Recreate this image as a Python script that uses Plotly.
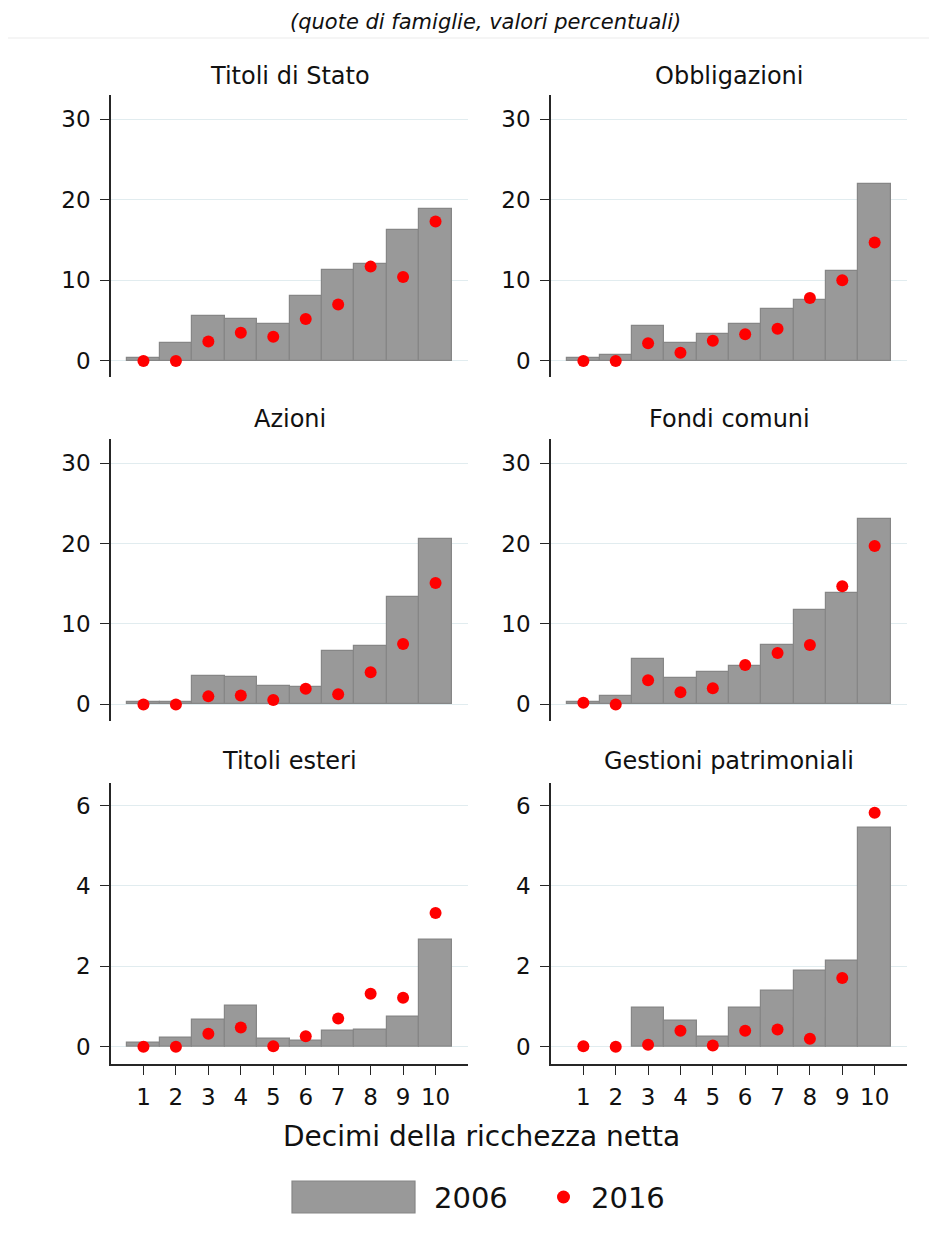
import plotly.graph_objects as go

# ---------------- data ----------------
deciles = [1, 2, 3, 4, 5, 6, 7, 8, 9, 10]
tick_labels = ["1", "2", "3", "4", "5", "6", "7", "8", "9", "10"]

panel_titles = ["Titoli di Stato", "Obbligazioni", "Azioni",
                "Fondi comuni", "Titoli esteri", "Gestioni patrimoniali"]

titoli_stato_2006 = [0.4, 2.2, 5.6, 5.2, 4.6, 8.0, 11.3, 12.0, 16.3, 18.8]
titoli_stato_2016 = [0.0, 0.0, 2.4, 3.5, 3.0, 5.2, 7.0, 11.7, 10.4, 17.3]

obbligazioni_2006 = [0.35, 0.7, 4.3, 2.2, 3.3, 4.6, 6.4, 7.5, 11.1, 21.9]
obbligazioni_2016 = [0.0, 0.0, 2.2, 1.0, 2.5, 3.3, 4.0, 7.8, 10.0, 14.7]

azioni_2006 = [0.3, 0.3, 3.5, 3.35, 2.3, 2.2, 6.7, 7.3, 13.4, 20.6]
azioni_2016 = [0.0, 0.0, 1.0, 1.1, 0.55, 1.95, 1.25, 4.0, 7.5, 15.1]

fondi_2006 = [0.3, 1.1, 5.6, 3.3, 4.0, 4.75, 7.35, 11.8, 13.8, 23.0]
fondi_2016 = [0.2, 0.0, 3.0, 1.5, 2.0, 4.9, 6.4, 7.4, 14.7, 19.7]

esteri_2006 = [0.11, 0.22, 0.67, 1.03, 0.2, 0.14, 0.39, 0.43, 0.74, 2.67]
esteri_2016 = [0.0, 0.0, 0.32, 0.48, 0.01, 0.26, 0.70, 1.32, 1.22, 3.33]

gestioni_2006 = [0.0, 0.0, 0.98, 0.66, 0.26, 0.98, 1.4, 1.9, 2.14, 5.45]
gestioni_2016 = [0.01, 0.0, 0.05, 0.4, 0.03, 0.4, 0.43, 0.2, 1.71, 5.82]

ticks_big = [0, 10, 20, 30]
ticks_small = [0, 2, 4, 6]

series_2006 = [titoli_stato_2006, obbligazioni_2006, azioni_2006,
               fondi_2006, esteri_2006, gestioni_2006]
series_2016 = [titoli_stato_2016, obbligazioni_2016, azioni_2016,
               fondi_2016, esteri_2016, gestioni_2016]

legend_labels = ["2006", "2016"]
x_title = "Decimi della ricchezza netta"
subtitle = "(quote di famiglie, valori percentuali)"

# ---------------- layout helpers ----------------
OFF = 8  # page body margin of the browser
W, H = 937 - 2 * OFF, 1255 - 2 * OFF
FONT = "DejaVu Sans, Liberation Sans, Arial, sans-serif"
BAR_FILL = "#999999"
BAR_LINE = "#868686"
DOT = "#ff0000"
GRID = "#e1ecef"
AXIS = "#262626"


def px_x(p):
    return (p - OFF) / W


def px_y(p):
    return 1 - (p - OFF) / H


col_dom = [(111, 468), (551, 907)]
row_dom = [(95, 377), (439, 720.5), (782.7, 1064)]
row_title_y = [76.4, 419.4, 761.4]
y_ranges = [[-2, 33], [-2, 33], [-0.43, 6.57]]
y_ticks = [ticks_big, ticks_big, ticks_small]

fig = go.Figure()
annotations = []

for i in range(6):
    r, c = divmod(i, 2)
    n = i + 1
    xa = "x" if n == 1 else f"x{n}"
    ya = "y" if n == 1 else f"y{n}"

    outline_w = [1.2 if v > 0 else 0 for v in series_2006[i]]
    fig.add_trace(go.Bar(
        x=deciles, y=series_2006[i], width=1,
        marker=dict(color=BAR_FILL, line=dict(color=BAR_LINE, width=outline_w)),
        name=legend_labels[0], showlegend=False,
        xaxis=xa, yaxis=ya,
    ))
    fig.add_trace(go.Scatter(
        x=deciles, y=series_2016[i], mode="markers",
        marker=dict(color=DOT, size=12, line=dict(width=0)),
        name=legend_labels[1], showlegend=False, cliponaxis=False,
        xaxis=xa, yaxis=ya,
    ))

    bottom = (r == 2)
    xkey = "xaxis" if n == 1 else f"xaxis{n}"
    ykey = "yaxis" if n == 1 else f"yaxis{n}"
    fig.layout[xkey] = dict(
        domain=[px_x(col_dom[c][0]), px_x(col_dom[c][1])],
        anchor=ya, range=[0, 11],
        showgrid=False, zeroline=False,
        showline=bottom, linecolor=AXIS, linewidth=1.5,
        ticks="outside" if bottom else "", ticklen=9, tickwidth=1.3,
        tickcolor=AXIS,
        tickmode="array", tickvals=deciles, ticktext=tick_labels,
        showticklabels=bottom,
        tickfont=dict(family=FONT, size=23, color="#111111"),
        ticklabelstandoff=3,
        fixedrange=True,
    )
    fig.layout[ykey] = dict(
        domain=[px_y(row_dom[r][1]), px_y(row_dom[r][0])],
        anchor=xa, range=y_ranges[r],
        showgrid=True, gridcolor=GRID, gridwidth=1.2,
        zeroline=False,
        showline=True, linecolor=AXIS, linewidth=1.5,
        ticks="outside", ticklen=9, tickwidth=1.3, tickcolor=AXIS,
        tickmode="array", tickvals=y_ticks[r],
        tickfont=dict(family=FONT, size=23, color="#111111"),
        ticklabelstandoff=5,
        fixedrange=True,
    )
    annotations.append(dict(
        text=panel_titles[i], xref="paper", yref="paper",
        x=px_x((col_dom[c][0] + col_dom[c][1]) / 2), y=px_y(row_title_y[r]),
        xanchor="center", yanchor="middle", showarrow=False,
        font=dict(family=FONT, size=24, color="#111111"),
    ))

# subtitle (kept fully visible at the very top) and x title
annotations.append(dict(
    text=f"<i>{subtitle}</i>", xref="paper", yref="paper",
    x=px_x(485), y=1.0, xanchor="center", yanchor="top",
    showarrow=False, font=dict(family=FONT, size=21, color="#111111"),
))
annotations.append(dict(
    text=x_title, xref="paper", yref="paper",
    x=px_x(481), y=px_y(1136), xanchor="center", yanchor="middle",
    showarrow=False, font=dict(family=FONT, size=28, color="#111111"),
))
# legend labels
annotations.append(dict(
    text=legend_labels[0], xref="paper", yref="paper",
    x=px_x(432), y=px_y(1198), xanchor="left", yanchor="middle",
    showarrow=False, font=dict(family=FONT, size=29, color="#111111"),
))
annotations.append(dict(
    text=legend_labels[1], xref="paper", yref="paper",
    x=px_x(589), y=px_y(1198), xanchor="left", yanchor="middle",
    showarrow=False, font=dict(family=FONT, size=29, color="#111111"),
))

shapes = [
    # faint outer graph-region border
    dict(type="rect", xref="paper", yref="paper",
         x0=px_x(7), x1=1.02, y0=-0.02, y1=px_y(38),
         line=dict(color="#f2f2f2", width=1.5), fillcolor="rgba(0,0,0,0)",
         layer="below"),
    # legend swatch for bars
    dict(type="rect", xref="paper", yref="paper",
         x0=px_x(292), x1=px_x(415), y0=px_y(1213), y1=px_y(1181),
         line=dict(color=BAR_LINE, width=1.2), fillcolor=BAR_FILL),
    # legend swatch for dots
    dict(type="circle", xref="paper", yref="paper",
         x0=px_x(557), x1=px_x(570), y0=px_y(1203.5), y1=px_y(1190.5),
         line=dict(width=0), fillcolor=DOT),
]

fig.update_layout(
    width=W, height=H, autosize=False,
    margin=dict(l=0, r=0, t=0, b=0),
    paper_bgcolor="white", plot_bgcolor="white",
    showlegend=False, bargap=0,
    annotations=annotations, shapes=shapes,
    font=dict(family=FONT, color="#111111"),
)

fig.write_html("out.html")
